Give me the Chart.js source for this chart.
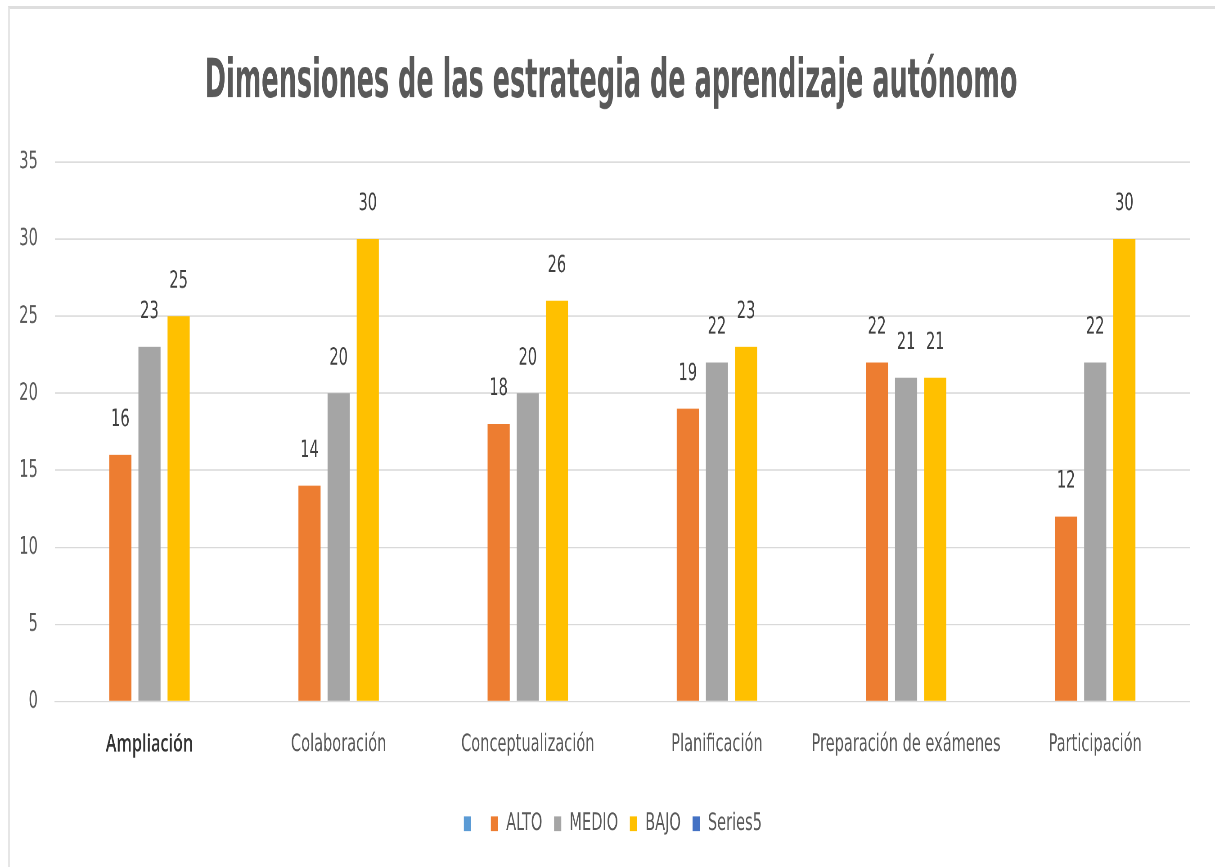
<!DOCTYPE html>
<html>
<head>
<meta charset="utf-8"/>
<title>Dimensiones de las estrategia de aprendizaje autónomo</title>
<script src="https://cdn.jsdelivr.net/npm/chart.js@4.4.1/dist/chart.umd.min.js"></script>
<style>
  html, body { margin: 0; padding: 0; background: #fff; overflow: hidden; }
  .wrap { position: relative; width: 1215px; height: 867px; overflow: hidden; }
  /* the reference is squeezed sideways and stretched up, so the canvas is too */
  #grafico { position: absolute; left: 0; top: 0; transform-origin: 0 0; transform: scale(0.9, 1.3505); }
  .marco { position: absolute; left: 8px; top: 6px; right: -4px; bottom: -4px;
           border-top: 3px solid #dedede; border-left: 2px solid #e6e6e6; pointer-events: none; }
</style>
</head>
<body>
<div class="wrap">
  <canvas id="grafico" width="1350" height="642"></canvas>
  <div class="marco"></div>
</div>
<script>
// datos
var categorias = ['Ampliación', 'Colaboración', 'Conceptualización', 'Planificación', 'Preparación de exámenes', 'Participación'];
var nombres = ['', 'ALTO', 'MEDIO', 'BAJO', 'Series5'];
var serie1 = [null, null, null, null, null, null];
var alto = [16, 14, 18, 19, 22, 12];
var medio = [23, 20, 20, 22, 21, 22];
var bajo = [25, 30, 26, 23, 21, 30];
var serie5 = [null, null, null, null, null, null];
var colores = ['#5B9BD5', '#ED7D31', '#A5A5A5', '#FFC000', '#4472C4'];
var titulo = 'Dimensiones de las estrategia de aprendizaje autónomo';
var yMax = 35;
var yPaso = 5;

var fuente = "'Liberation Sans Narrow', 'DejaVu Sans Condensed', sans-serif";
var gris = '#595959';

// titulo dibujado a mano para poder estrecharlo
var tituloPlugin = {
  id: 'tituloPlugin',
  afterLayout: function(chart) {
    // la leyenda va centrada un poco a la derecha
    chart.legend.left += 40;
  },
  afterDraw: function(chart) {
    var ctx = chart.ctx;
    ctx.save();
    ctx.font = 'bold 40px ' + fuente;
    ctx.fillStyle = gris;
    ctx.textAlign = 'center';
    ctx.textBaseline = 'alphabetic';
    var w = ctx.measureText(titulo).width;
    var sx = 903 / w;
    ctx.translate(679, 72);
    ctx.scale(sx, 1);
    ctx.fillText(titulo, 0, 0);
    ctx.restore();
  }
};

// etiquetas de valor encima de las barras
var etiquetas = {
  id: 'etiquetas',
  afterDatasetsDraw: function(chart) {
    var ctx = chart.ctx;
    ctx.save();
    ctx.font = '18px ' + fuente;
    ctx.fillStyle = '#404040';
    ctx.textAlign = 'center';
    ctx.textBaseline = 'middle';
    chart.data.datasets.forEach(function(ds, i) {
      var meta = chart.getDatasetMeta(i);
      meta.data.forEach(function(bar, j) {
        var v = ds.data[j];
        if (v === null || v === undefined) return;
        ctx.fillText(String(v), bar.x, bar.y - 26);
      });
    });
    ctx.restore();
  }
};

var series = [serie1, alto, medio, bajo, serie5];
var datasets = series.map(function(d, i) {
  return {
    label: nombres[i],
    data: d,
    backgroundColor: colores[i],
    borderWidth: 0,
    categoryPercentage: 0.77,
    barPercentage: 0.76
  };
});

var ctx = document.getElementById('grafico').getContext('2d');
window.miGrafico = new Chart(ctx, {
  type: 'bar',
  data: { labels: categorias, datasets: datasets },
  plugins: [etiquetas, tituloPlugin],
  options: {
    responsive: false,
    animation: false,
    devicePixelRatio: 2,
    layout: { padding: { left: 0, right: 28, top: 120, bottom: 13 } },
    plugins: {
      title: { display: false },
      legend: {
        position: 'bottom',
        labels: {
          color: gris,
          font: { family: fuente, size: 18 },
          boxWidth: 8,
          boxHeight: 11,
          padding: 13
        }
      },
      tooltip: { enabled: false }
    },
    scales: {
      x: {
        grid: { display: false, drawTicks: false },
        border: { color: '#d9d9d9' },
        afterFit: function(scale) { scale.height += 5; },
        ticks: {
          padding: 21,
          maxRotation: 0,
          autoSkip: false,
          color: function(c) { return c.index === 0 ? '#333333' : gris; },
          font: function(c) {
            if (c.index === 0) return { family: "'Open Sans', sans-serif", size: 18, weight: '600' };
            return { family: fuente, size: 18 };
          }
        }
      },
      y: {
        min: 0,
        max: yMax,
        afterFit: function(scale) { scale.width = 61; },
        grid: { color: '#d9d9d9', drawTicks: false },
        border: { display: false },
        ticks: {
          stepSize: yPaso,
          padding: 19,
          color: gris,
          font: { family: fuente, size: 18 }
        }
      }
    }
  }
});
</script>
</body>
</html>
